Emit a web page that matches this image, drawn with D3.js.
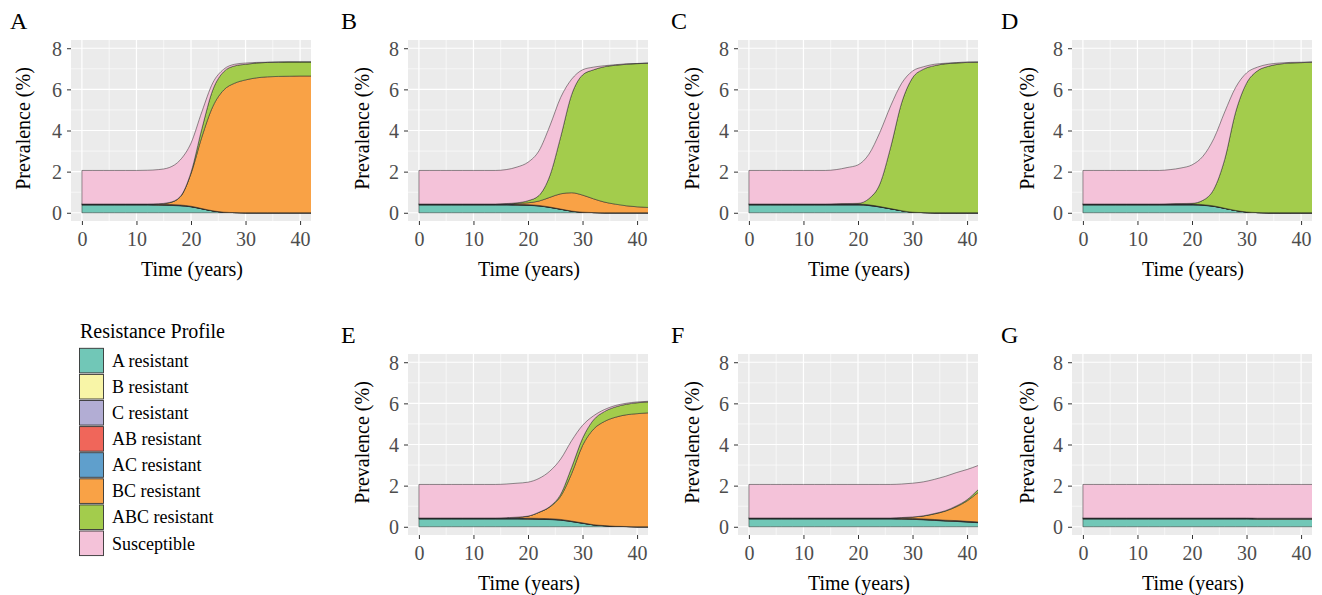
<!DOCTYPE html>
<html>
<head>
<meta charset="utf-8">
<script src="https://cdn.jsdelivr.net/npm/d3@7"></script>
<style>
  body { margin: 0; background: #fff; }
  svg text { font-family: 'Liberation Serif', 'DejaVu Serif', serif; }
  .tick-label { fill: #4d4d4d; font-size: 20px; }
  .axis-title { fill: #000; font-size: 20px; }
  .panel-tag { fill: #000; font-size: 24px; }
</style>
</head>
<body>
<svg id="chart" width="1322" height="595"></svg>
<script>
// ---- data (prevalence %, every 2 years) ----
const years = [0, 2, 4, 6, 8, 10, 12, 14, 16, 18, 20, 22, 24, 26, 28, 30, 32, 34, 36, 38, 40, 42, 44];

const seriesNames = ['A resistant', 'B resistant', 'C resistant', 'AB resistant',
  'AC resistant', 'BC resistant', 'ABC resistant', 'Susceptible'];

const xTicks = [0, 10, 20, 30, 40];
const yTicks = [0, 2, 4, 6, 8];

// Panel A
const minorA = [.012, .012, .012, .012, .012, .012, .012, .012, .012, .01, .007, .004, .002, 0, 0, 0, 0, 0, 0, 0, 0, 0, 0];
const panelA = {
  'A resistant':   [.38, .38, .38, .38, .38, .38, .38, .37, .36, .34, .29, .19, .09, .03, .01, 0, 0, 0, 0, 0, 0, 0, 0],
  'B resistant':   minorA,
  'C resistant':   minorA,
  'AB resistant':  minorA,
  'AC resistant':  minorA,
  'BC resistant':  [0, 0, 0, 0, 0, 0, 0, .02, .08, .38, 1.59, 3.49, 5.07, 5.94, 6.29, 6.46, 6.56, 6.61, 6.63, 6.64, 6.65, 6.65, 6.65],
  'ABC resistant': [0, 0, 0, 0, 0, 0, 0, 0, .01, .02, .06, .4, .81, .89, .84, .76, .72, .70, .69, .69, .68, .68, .68],
  'Susceptible':   [1.63, 1.63, 1.63, 1.63, 1.63, 1.63, 1.64, 1.66, 1.70, 1.78, 1.42, .82, .34, .12, .08, .06, .03, .01, .01, 0, 0, 0, 0]
};

// Panel B
const minorB = [.012, .012, .012, .012, .012, .012, .012, .012, .012, .011, .009, .007, .005, .003, .001, 0, 0, 0, 0, 0, 0, 0, 0];
const panelB = {
  'A resistant':   [.38, .38, .38, .38, .38, .38, .38, .38, .38, .37, .36, .33, .26, .17, .08, .03, .01, 0, 0, 0, 0, 0, 0],
  'B resistant':   minorB,
  'C resistant':   minorB,
  'AB resistant':  minorB,
  'AC resistant':  minorB,
  'BC resistant':  [0, 0, 0, 0, 0, 0, 0, 0, .01, .04, .09, .21, .47, .74, .89, .83, .67, .52, .42, .34, .29, .26, .24],
  'ABC resistant': [0, 0, 0, 0, 0, 0, 0, 0, .01, .03, .1, .27, 1.05, 2.78, 4.77, 5.84, 6.27, 6.58, 6.75, 6.88, 6.96, 7.01, 7.04],
  'Susceptible':   [1.63, 1.63, 1.63, 1.63, 1.63, 1.63, 1.63, 1.63, 1.65, 1.74, 1.87, 2.17, 2.42, 1.91, .75, .25, .13, .05, .03, .02, .01, .01, .01]
};

// Panel C
const minorC = [.012, .012, .012, .012, .012, .012, .012, .012, .012, .012, .012, .009, .006, .003, .001, 0, 0, 0, 0, 0, 0, 0, 0];
const panelC = {
  'A resistant':   [.38, .38, .38, .38, .38, .38, .38, .38, .38, .38, .38, .35, .28, .19, .10, .03, .01, 0, 0, 0, 0, 0, 0],
  'B resistant':   minorC,
  'C resistant':   minorC,
  'AB resistant':  minorC,
  'AC resistant':  minorC,
  'BC resistant':  [0, 0, 0, 0, 0, 0, 0, 0, 0, 0, 0, 0, 0, 0, 0, 0, 0, 0, 0, 0, 0, 0, 0],
  'ABC resistant': [0, 0, 0, 0, 0, 0, 0, 0, .01, .02, .03, .30, 1.09, 3.0, 5.24, 6.53, 6.97, 7.15, 7.24, 7.28, 7.31, 7.32, 7.33],
  'Susceptible':   [1.63, 1.63, 1.63, 1.63, 1.63, 1.63, 1.63, 1.63, 1.66, 1.75, 1.87, 2.16, 2.51, 2.0, .95, .33, .12, .07, .03, .02, .02, .01, 0]
};

// Panel D
const minorD = [.012, .012, .012, .012, .012, .012, .012, .012, .012, .012, .012, .009, .006, .003, .001, 0, 0, 0, 0, 0, 0, 0, 0];
const panelD = {
  'A resistant':   [.38, .38, .38, .38, .38, .38, .38, .38, .38, .38, .38, .36, .31, .21, .11, .04, .01, 0, 0, 0, 0, 0, 0],
  'B resistant':   minorD,
  'C resistant':   minorD,
  'AB resistant':  minorD,
  'AC resistant':  minorD,
  'BC resistant':  [0, 0, 0, 0, 0, 0, 0, 0, 0, 0, 0, 0, 0, 0, 0, 0, 0, 0, 0, 0, 0, 0, 0],
  'ABC resistant': [0, 0, 0, 0, 0, 0, 0, 0, .01, .02, .03, .21, .81, 2.38, 4.78, 6.26, 6.89, 7.12, 7.23, 7.28, 7.3, 7.32, 7.33],
  'Susceptible':   [1.63, 1.63, 1.63, 1.63, 1.63, 1.63, 1.63, 1.63, 1.66, 1.73, 1.87, 2.14, 2.46, 2.3, 1.2, .5, .18, .1, .05, .03, .02, .01, 0]
};

// Panel E
const minorE = [.012, .012, .012, .012, .012, .012, .012, .012, .012, .012, .012, .012, .011, .009, .007, .005, .003, .002, .001, .001, 0, 0, 0];
const panelE = {
  'A resistant':   [.38, .38, .38, .38, .38, .38, .38, .38, .38, .38, .37, .36, .35, .32, .25, .17, .09, .05, .02, .01, 0, 0, 0],
  'B resistant':   minorE,
  'C resistant':   minorE,
  'AB resistant':  minorE,
  'AC resistant':  minorE,
  'BC resistant':  [0, 0, 0, 0, 0, 0, 0, 0, .01, .04, .1, .29, .57, 1.13, 2.31, 3.76, 4.64, 5.06, 5.3, 5.43, 5.5, 5.54, 5.57],
  'ABC resistant': [0, 0, 0, 0, 0, 0, 0, 0, 0, 0, 0, .01, .02, .1, .3, .35, .45, .48, .5, .51, .53, .53, .53],
  'Susceptible':   [1.63, 1.63, 1.63, 1.63, 1.63, 1.63, 1.63, 1.63, 1.64, 1.65, 1.65, 1.64, 1.72, 1.71, 1.3, .63, .2, .1, .07, .05, .04, .03, .02]
};

// Panel F
const minorF = [.012, .012, .012, .012, .012, .012, .012, .012, .012, .012, .012, .012, .012, .012, .012, .012, .011, .011, .01, .01, .009, .009, .008];
const panelF = {
  'A resistant':   [.38, .38, .38, .38, .38, .38, .38, .38, .38, .38, .38, .38, .38, .38, .37, .36, .34, .31, .28, .26, .23, .2, .18],
  'B resistant':   minorF,
  'C resistant':   minorF,
  'AB resistant':  minorF,
  'AC resistant':  minorF,
  'BC resistant':  [0, 0, 0, 0, 0, 0, 0, 0, 0, 0, 0, 0, 0, 0, .03, .07, .14, .27, .44, .67, .99, 1.43, 1.88],
  'ABC resistant': [0, 0, 0, 0, 0, 0, 0, 0, 0, 0, 0, 0, 0, 0, 0, 0, .01, .02, .02, .04, .06, .13, .2],
  'Susceptible':   [1.63, 1.63, 1.63, 1.63, 1.63, 1.63, 1.63, 1.63, 1.63, 1.63, 1.63, 1.63, 1.63, 1.63, 1.63, 1.64, 1.65, 1.66, 1.67, 1.62, 1.47, 1.18, .92]
};

// Panel G
const minorG = [.012, .012, .012, .012, .012, .012, .012, .012, .012, .012, .012, .012, .012, .012, .012, .012, .012, .012, .012, .012, .012, .012, .012];
const panelG = {
  'A resistant':   [.38, .38, .38, .38, .38, .38, .38, .38, .38, .38, .38, .38, .38, .38, .38, .38, .37, .37, .37, .37, .37, .37, .37],
  'B resistant':   minorG,
  'C resistant':   minorG,
  'AB resistant':  minorG,
  'AC resistant':  minorG,
  'BC resistant':  [0, 0, 0, 0, 0, 0, 0, 0, 0, 0, 0, 0, 0, 0, 0, 0, 0, 0, 0, 0, 0, 0, 0],
  'ABC resistant': [0, 0, 0, 0, 0, 0, 0, 0, 0, 0, 0, 0, 0, 0, 0, 0, 0, 0, 0, 0, 0, 0, 0],
  'Susceptible':   [1.63, 1.63, 1.63, 1.63, 1.63, 1.63, 1.63, 1.63, 1.63, 1.63, 1.63, 1.63, 1.63, 1.63, 1.63, 1.63, 1.64, 1.64, 1.64, 1.64, 1.64, 1.64, 1.64]
};

// ---- look & layout ----
const colors = ['#71c7b7', '#f8f5a7', '#b2add4', '#f0665a', '#5f9fcc', '#f9a246', '#a3cc4c', '#f4c2d9'];
const color = d3.scaleOrdinal(seriesNames, colors);

const panelW = 240, panelH = 181;
const layout = [
  { tag: 'A', data: panelA, left: 71,   top: 40,  tagX: 10,   titleDx: 48 },
  { tag: 'B', data: panelB, left: 408,  top: 40,  tagX: 341,  titleDx: 46 },
  { tag: 'C', data: panelC, left: 738,  top: 40,  tagX: 671,  titleDx: 46 },
  { tag: 'D', data: panelD, left: 1072, top: 40,  tagX: 1001, titleDx: 45 },
  { tag: 'E', data: panelE, left: 408,  top: 354, tagX: 341,  titleDx: 46 },
  { tag: 'F', data: panelF, left: 738,  top: 354, tagX: 671,  titleDx: 46 },
  { tag: 'G', data: panelG, left: 1072, top: 354, tagX: 1001, titleDx: 45 }
];

const svg = d3.select('#chart');

const x = d3.scaleLinear().domain([-2, 42]).range([0, panelW]);
const y = d3.scaleLinear().domain([-0.4, 8.4]).range([panelH, 0]);

const area = d3.area()
  .x(d => x(d.data.t))
  .y0(d => y(d[0]))
  .y1(d => y(d[1]))
  .curve(d3.curveMonotoneX);

const stack = d3.stack().keys(seriesNames);

/**
 * Draws one ggplot-like panel: grey background, white grid, stacked areas, axes.
 */
function drawPanel(p) {
  const g = svg.append('g').attr('transform', `translate(${p.left}, ${p.top})`);

  // panel tag letter
  svg.append('text')
    .attr('class', 'panel-tag')
    .attr('x', p.tagX)
    .attr('y', p.top - 11)
    .text(p.tag);

  g.append('rect')
    .attr('width', panelW).attr('height', panelH)
    .attr('fill', '#ebebeb');

  // minor + major grid
  const grid = g.append('g');
  grid.append('g').selectAll('line').data([5, 15, 25, 35]).join('line')
    .attr('x1', d => x(d)).attr('x2', d => x(d))
    .attr('y1', 0).attr('y2', panelH)
    .attr('stroke', '#fff').attr('stroke-width', 0.6);
  grid.append('g').selectAll('line').data([1, 3, 5, 7]).join('line')
    .attr('y1', d => y(d)).attr('y2', d => y(d))
    .attr('x1', 0).attr('x2', panelW)
    .attr('stroke', '#fff').attr('stroke-width', 0.6);
  grid.append('g').selectAll('line').data(xTicks).join('line')
    .attr('x1', d => x(d)).attr('x2', d => x(d))
    .attr('y1', 0).attr('y2', panelH)
    .attr('stroke', '#fff').attr('stroke-width', 1.2);
  grid.append('g').selectAll('line').data(yTicks).join('line')
    .attr('y1', d => y(d)).attr('y2', d => y(d))
    .attr('x1', 0).attr('x2', panelW)
    .attr('stroke', '#fff').attr('stroke-width', 1.2);

  // stacked areas
  const rows = years.map((t, j) => {
    const r = { t };
    seriesNames.forEach(k => { r[k] = p.data[k][j]; });
    return r;
  });
  const clipId = `clip-${p.tag}`;
  g.append('clipPath').attr('id', clipId)
    .append('rect').attr('width', panelW).attr('height', panelH);

  g.append('g')
    .attr('clip-path', `url(#${clipId})`)
    .selectAll('path')
    .data(stack(rows))
    .join('path')
    .attr('d', area)
    .attr('fill', d => color(d.key))
    .attr('stroke', '#262626')
    .attr('stroke-width', 0.5)
    .attr('stroke-linejoin', 'round');

  // axes (ggplot style: short dark ticks, grey labels, no domain line)
  const xAxis = g.append('g')
    .attr('transform', `translate(0, ${panelH})`)
    .call(d3.axisBottom(x).tickValues(xTicks).tickSize(4).tickPadding(6));
  const yAxis = g.append('g')
    .call(d3.axisLeft(y).tickValues(yTicks).tickSize(4).tickPadding(5));

  [xAxis, yAxis].forEach(axis => {
    axis.attr('font-family', null).attr('font-size', null);
    axis.select('.domain').remove();
    axis.selectAll('.tick line').attr('stroke', '#333').attr('stroke-width', 1);
    axis.selectAll('.tick text').attr('class', 'tick-label');
  });
  xAxis.selectAll('.tick text').attr('dy', null).attr('y', 25);
  yAxis.selectAll('.tick text').attr('dy', '0.34em');

  g.append('text')
    .attr('class', 'axis-title')
    .attr('text-anchor', 'middle')
    .attr('x', panelW / 2 + 1)
    .attr('y', panelH + 55)
    .text('Time (years)');

  g.append('text')
    .attr('class', 'axis-title')
    .attr('text-anchor', 'middle')
    .attr('transform', `translate(${-p.titleDx + 7}, ${panelH / 2 - 2}) rotate(-90)`)
    .text('Prevalence (%)');
}

layout.forEach(drawPanel);

// ---- legend ----
const legend = svg.append('g').attr('transform', 'translate(79, 338)');
legend.append('text')
  .attr('x', 1).attr('y', 0)
  .attr('font-size', 20)
  .text('Resistance Profile');

const keyH = 26.1;
const items = legend.selectAll('.item')
  .data(seriesNames)
  .join('g')
  .attr('class', 'item')
  .attr('transform', (d, i) => `translate(0, ${9.8 + i * keyH})`);

items.append('rect')
  .attr('x', 0.5).attr('y', 0.5)
  .attr('width', 24).attr('height', keyH - 1.5)
  .attr('fill', d => color(d))
  .attr('stroke', '#333')
  .attr('stroke-width', 0.9);

items.append('text')
  .attr('x', 33)
  .attr('y', keyH / 2 + 6)
  .attr('font-size', 18)
  .text(d => d);
</script>
</body>
</html>
